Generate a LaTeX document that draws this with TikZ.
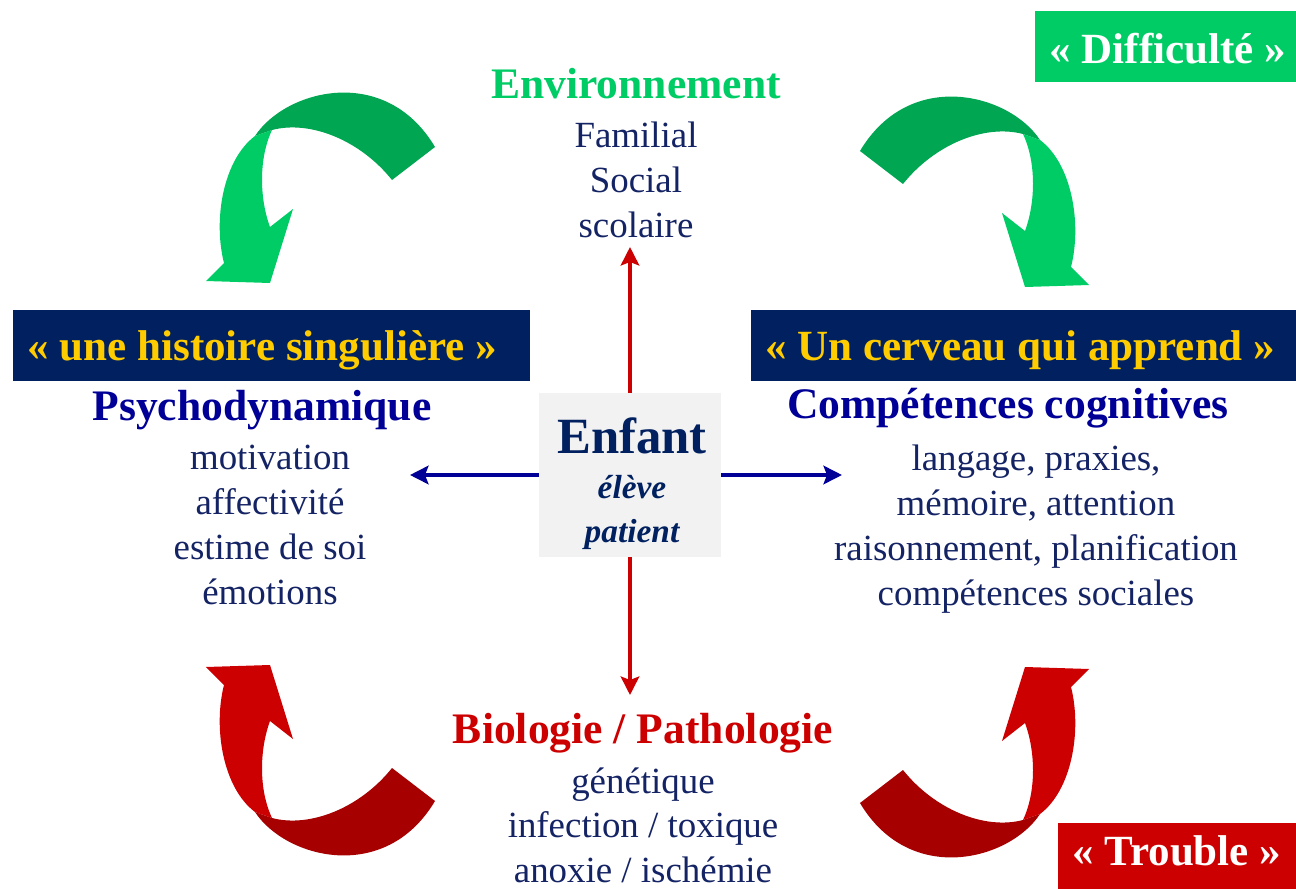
\documentclass[tikz,border=0pt]{standalone}
\usepackage{fontspec}
\setmainfont{Liberation Serif}
\usepackage{tikz}
\usetikzlibrary{arrows.meta,positioning}
\definecolor{navybox}{RGB}{0,32,96}
\definecolor{goldtxt}{RGB}{255,204,0}
\definecolor{lightgreen}{RGB}{0,204,102}
\definecolor{darkgreen}{RGB}{0,166,81}
\definecolor{lightred}{RGB}{204,0,0}
\definecolor{darkred}{RGB}{166,0,0}
\definecolor{bodyblue}{RGB}{20,35,100}
\definecolor{headblue}{RGB}{0,0,150}
\definecolor{boxgray}{RGB}{242,242,242}

% ruban courbe, dessine en haut a gauche
\newcommand{\ribbonarrow}[2]{%
	\fill[#1] (435,147) -- (392,180) .. controls (360,140) and (310,120) .. (272,130) -- (255,136)
		.. controls (285,90) and (385,63) .. (435,147) -- cycle;
	\fill[#2] (255,136) .. controls (223,160) and (213,220) .. (224,263) -- (206,281) -- (270,283)
		-- (293,209) -- (270,227) .. controls (260,200) and (258,160) .. (272,130) -- cycle;
}

\begin{document}
\begin{tikzpicture}[x=0.02cm,y=-0.02cm,
					head/.style={inner sep=0pt,anchor=base,font=\fontsize{24.8}{30}\selectfont\bfseries},
					body/.style={inner sep=0pt,anchor=north,align=center,text=bodyblue,font=\fontsize{21}{25.5}\selectfont},
					lblbox/.style={anchor=north west,inner sep=0pt,minimum height=1.42cm},
					lbltxt/.style={anchor=base west,inner sep=0pt,font=\fontsize{24.5}{30}\selectfont\bfseries},
					redline/.style={draw=lightred,line width=2.2pt,-{Stealth[length=10.5pt,width=10.5pt,inset=2pt]}},
					blueline/.style={draw=headblue,line width=2.2pt,-{Stealth[length=10.5pt,width=10.5pt,inset=2pt]}}]
	\useasboundingbox (0,0) rectangle (1296,889);
	
	\ribbonarrow{darkgreen}{lightgreen}
	\begin{scope}[shift={(1295,4)},xscale=-1]
		\ribbonarrow{darkgreen}{lightgreen}
	\end{scope}
	\begin{scope}[shift={(0,948)},yscale=-1]
		\ribbonarrow{darkred}{lightred}
	\end{scope}
	\begin{scope}[shift={(1295,950)},scale=-1]
		\ribbonarrow{darkred}{lightred}
	\end{scope}
	
	\node[lblbox,fill=lightgreen,minimum width=5.22cm] (difficulte) at (1035,11) {};
	\node[lbltxt,text=white] (difftxt) at (1049,63) {« Difficulté »};
	\node[lblbox,fill=lightred,minimum width=4.76cm,minimum height=1.32cm] (trouble) at (1058,823) {};
	\node[lbltxt,text=white] (troubtxt) at (1072,865) {« Trouble »};
	\node[lblbox,fill=navybox,minimum width=10.34cm] (histoire) at (13,310) {};
	\node[lbltxt,text=goldtxt] (histtxt) at (27,360) {« une histoire singulière »};
	\node[lblbox,fill=navybox,minimum width=10.9cm] (cerveau) at (751,310) {};
	\node[lbltxt,text=goldtxt] (cervtxt) at (765,360) {« Un cerveau qui apprend »};
	
	\node[fill=boxgray,inner sep=0pt,minimum width=3.64cm,minimum height=3.28cm] (enfant) at (630,475) {};
	\node[inner sep=0pt,anchor=base,text=navybox,font=\fontsize{28.9}{34}\selectfont\bfseries] (enftxt) at (632,453) {Enfant};
	\node[inner sep=0pt,anchor=north,align=center,text=navybox,font=\fontsize{19}{25}\selectfont\bfseries\itshape] (roles) at (632,475) {élève\\patient};
	
	\node[head,text=lightgreen] (envhead) at (636,98) {Environnement};
	\node[body] (envlist) at (636,122) {Familial\\Social\\scolaire};
	\node[head,text=headblue] (psyhead) at (262,420) {Psychodynamique};
	\node[body] (psylist) at (270,445) {motivation\\affectivité\\estime de soi\\émotions};
	\node[head,text=headblue] (comphead) at (1008,418) {Compétences cognitives};
	\node[body] (complist) at (1036,445) {langage, praxies,\\mémoire, attention\\raisonnement, planification\\compétences sociales};
	\node[head,text=lightred] (biohead) at (643,743) {Biologie / Pathologie};
	\node[body] (biolist) at (643,767) {génétique\\infection / toxique\\anoxie / ischémie};
	
	\coordinate (envtip) at (630,247);
	\coordinate (biotip) at (630,695);
	\coordinate (psytip) at (410,475);
	\coordinate (comptip) at (842,475);
	\draw[redline] (enfant.north) -- (envtip);
	\draw[redline] (enfant.south) -- (biotip);
	\draw[blueline] (enfant.west) -- (psytip);
	\draw[blueline] (enfant.east) -- (comptip);
\end{tikzpicture}
\end{document}
